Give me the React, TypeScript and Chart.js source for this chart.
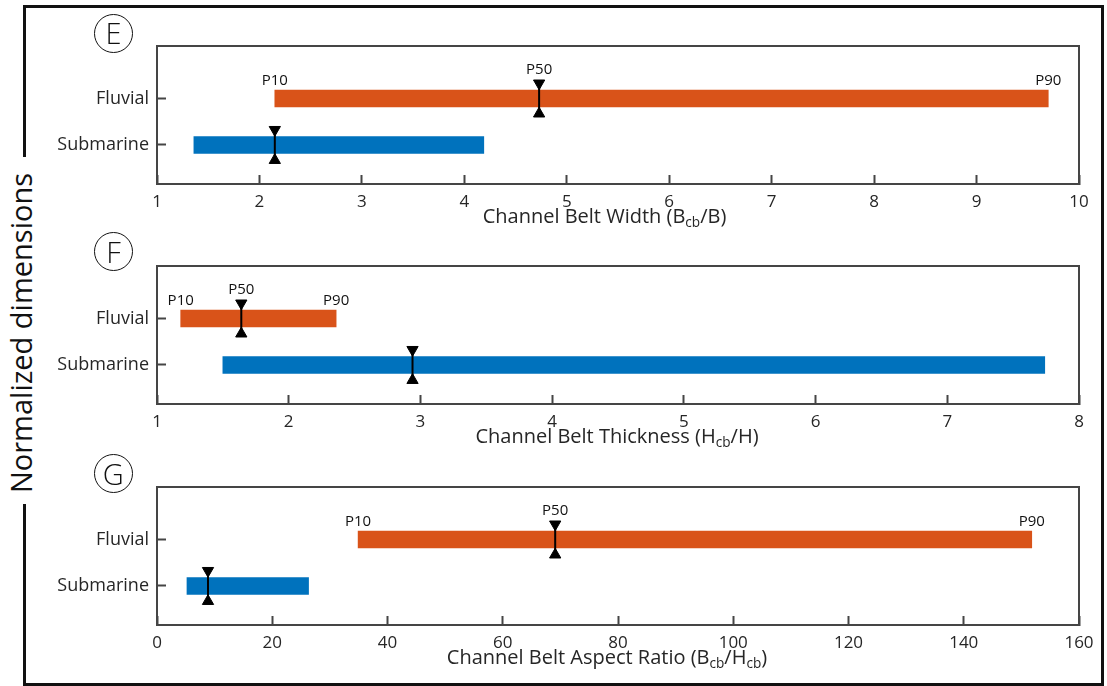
import React, { useEffect, useRef } from 'react';
import { Chart, registerables } from 'chart.js';

Chart.register(...registerables);

// Categories (index 0 = Fluvial, index 1 = Submarine) and their positions on the y axis
const CATEGORY_LABELS = ['Fluvial', 'Submarine'];
const CATEGORY_POS = [2, 1];

// Panel E: Channel Belt Width (Bcb/B)
const WIDTH_P10 = [2.15, 1.36];
const WIDTH_P50 = [4.73, 2.15];
const WIDTH_P90 = [9.7, 4.19];
const WIDTH_AXIS = [1, 10, 1]; // min, max, step

// Panel F: Channel Belt Thickness (Hcb/H)
const THICK_P10 = [1.18, 1.5];
const THICK_P50 = [1.64, 2.94];
const THICK_P90 = [2.36, 7.74];
const THICK_AXIS = [1, 8, 1];

// Panel G: Channel Belt Aspect Ratio (Bcb/Hcb)
const AR_P10 = [34.9, 5.2];
const AR_P50 = [69.1, 8.85];
const AR_P90 = [151.8, 26.3];
const AR_AXIS = [0, 160, 20];

const ORANGE = '#D95319';
const BLUE = '#0072BD';
const FONT = '"Open Sans", "Noto Sans", sans-serif';
const TEXT = '#262626';
const AXIS = '#454545';

type PanelProps = {
  top: number;
  axis: number[];
  p10: number[];
  p50: number[];
  p90: number[];
};

function Panel({ top, axis, p10, p50, p90 }: PanelProps) {
  const ref = useRef<HTMLCanvasElement>(null);
  useEffect(() => {
    const canvas = ref.current!;
    const markerOffset = 0.328;
    const markers = CATEGORY_POS.map((yv, i) => ({
      type: 'line' as const,
      data: [
        { x: p50[i], y: yv + markerOffset },
        { x: p50[i], y: yv - markerOffset },
      ],
      borderColor: '#000',
      borderWidth: 2,
      backgroundColor: '#000',
      pointStyle: 'triangle',
      pointRadius: 6.5,
      pointHoverRadius: 6.5,
      pointRotation: [180, 0],
      pointBorderWidth: 1,
      pointBorderColor: '#000',
      pointBackgroundColor: '#000',
      order: 0,
    }));

    const boxPlugin = {
      id: 'boxAndLabels',
      afterDraw(chart: any) {
        const { ctx, chartArea } = chart;
        const xs = chart.scales.x;
        const ys = chart.scales.y;
        ctx.save();
        ctx.strokeStyle = AXIS;
        ctx.lineWidth = 2;
        ctx.strokeRect(chartArea.left, chartArea.top, chartArea.right - chartArea.left, chartArea.bottom - chartArea.top);
        ctx.fillStyle = '#111';
        ctx.font = `15px ${FONT}`;
        ctx.textAlign = 'center';
        ctx.textBaseline = 'middle';
        const yc = ys.getPixelForValue(CATEGORY_POS[0]);
        ctx.fillText('P10', xs.getPixelForValue(p10[0]), yc - 18);
        ctx.fillText('P50', xs.getPixelForValue(p50[0]), yc - 29);
        ctx.fillText('P90', xs.getPixelForValue(p90[0]), yc - 18);
        ctx.restore();
      },
    };

    const chart = new Chart(canvas, {
      type: 'bar',
      data: {
        datasets: [
          {
            type: 'bar',
            data: CATEGORY_POS.map((y, i) => ({ y, x: [p10[i], p90[i]] })) as any,
            backgroundColor: [ORANGE, BLUE],
            borderWidth: 0,
            barThickness: 17,
            order: 2,
          },
          ...(markers as any),
        ],
      },
      options: {
        indexAxis: 'y',
        responsive: false,
        animation: false,
        devicePixelRatio: 1,
        layout: { autoPadding: false, padding: { top: 6, right: 28, left: 0, bottom: 0 } },
        plugins: { legend: { display: false }, tooltip: { enabled: false } },
        scales: {
          x: {
            type: 'linear',
            min: axis[0],
            max: axis[1],
            offset: false,
            ticks: {
              stepSize: axis[2],
              autoSkip: false,
              maxRotation: 0,
              padding: 17,
              color: TEXT,
              font: { family: FONT, size: 17 },
            },
            grid: { drawOnChartArea: false, tickLength: -9, tickWidth: 2, tickColor: AXIS, offset: false },
            border: { display: true, color: AXIS, width: 2 },
            afterFit: (s: any) => {
              s.height = 30;
              s.paddingLeft = 0;
              s.paddingRight = 0;
            },
          },
          y: {
            type: 'linear',
            min: 0.16,
            max: 3.13,
            offset: false,
            afterBuildTicks: (s: any) => {
              s.ticks = CATEGORY_POS.map((v) => ({ value: v }));
            },
            ticks: {
              padding: 17,
              color: TEXT,
              font: { family: FONT, size: 18 },
              callback: (v: any) => CATEGORY_LABELS[CATEGORY_POS.indexOf(Number(v))] ?? '',
            },
            grid: { drawOnChartArea: false, tickLength: -9, tickWidth: 2, tickColor: AXIS, offset: false },
            border: { display: true, color: AXIS, width: 2 },
            afterFit: (s: any) => {
              s.width = 157;
              s.paddingTop = 0;
              s.paddingBottom = 0;
            },
          },
        },
      } as any,
      plugins: [boxPlugin],
    });
    return () => chart.destroy();
  }, []);
  return (
    <canvas
      ref={ref}
      width={1107}
      height={174}
      style={{ position: 'absolute', left: 0, top, width: 1107, height: 174, display: 'block' }}
    />
  );
}

function Circled({ cx, cy, letter }: { cx: number; cy: number; letter: string }) {
  return (
    <div
      style={{
        position: 'absolute',
        left: cx - 19.5,
        top: cy - 19.5,
        width: 39,
        height: 39,
        boxSizing: 'border-box',
        border: '1.5px solid #111',
        borderRadius: '50%',
        display: 'flex',
        alignItems: 'center',
        justifyContent: 'center',
        fontFamily: FONT,
        fontWeight: 300,
        fontSize: 29,
        lineHeight: '29px',
        color: '#111',
      }}
    >
      <span style={{ marginTop: -1 }}>{letter}</span>
    </div>
  );
}

function AxisTitle({ cx, baseline, children }: { cx: number; baseline: number; children: React.ReactNode }) {
  return (
    <div
      style={{
        position: 'absolute',
        left: cx - 300,
        width: 600,
        top: baseline - 19.8,
        textAlign: 'center',
        fontFamily: FONT,
        fontSize: 20,
        lineHeight: '24px',
        color: TEXT,
        whiteSpace: 'nowrap',
      }}
    >
      {children}
    </div>
  );
}

const Sub = ({ children }: { children: React.ReactNode }) => (
  <span style={{ fontSize: '0.68em', position: 'relative', top: '0.3em', lineHeight: 0 }}>{children}</span>
);

const line = (left: number, top: number, width: number, height: number) => (
  <div style={{ position: 'absolute', left, top, width, height, background: '#111' }} />
);

export default function App() {
  return (
    <div style={{ position: 'fixed', left: 0, top: 0, width: 1107, height: 686, background: '#fff', overflow: 'hidden' }}>
      {line(23, 5, 1081, 3)}
      {line(1101, 5, 3, 681)}
      {line(23, 683, 1081, 3)}
      {line(23, 5, 3, 152)}
      {line(23, 504, 3, 182)}
      <div
        style={{
          position: 'absolute',
          left: 20.6 - 200,
          top: 333 - 20,
          width: 400,
          height: 40,
          lineHeight: '40px',
          textAlign: 'center',
          fontFamily: FONT,
          fontSize: 29,
          color: '#111',
          transform: 'rotate(-90deg)',
          whiteSpace: 'nowrap',
        }}
      >
        Normalized dimensions
      </div>

      <Panel top={40} axis={WIDTH_AXIS} p10={WIDTH_P10} p50={WIDTH_P50} p90={WIDTH_P90} />
      <Panel top={260} axis={THICK_AXIS} p10={THICK_P10} p50={THICK_P50} p90={THICK_P90} />
      <Panel top={481} axis={AR_AXIS} p10={AR_P10} p50={AR_P50} p90={AR_P90} />

      <Circled cx={113.5} cy={33.3} letter="E" />
      <Circled cx={113.5} cy={251.7} letter="F" />
      <Circled cx={113.3} cy={473.7} letter="G" />

      <AxisTitle cx={604.5} baseline={223.3}>
        Channel Belt Width (B<Sub>cb</Sub>/B)
      </AxisTitle>
      <AxisTitle cx={617} baseline={443.8}>
        Channel Belt Thickness (H<Sub>cb</Sub>/H)
      </AxisTitle>
      <AxisTitle cx={607} baseline={664.3}>
        Channel Belt Aspect Ratio (B<Sub>cb</Sub>/H<Sub>cb</Sub>)
      </AxisTitle>
    </div>
  );
}
